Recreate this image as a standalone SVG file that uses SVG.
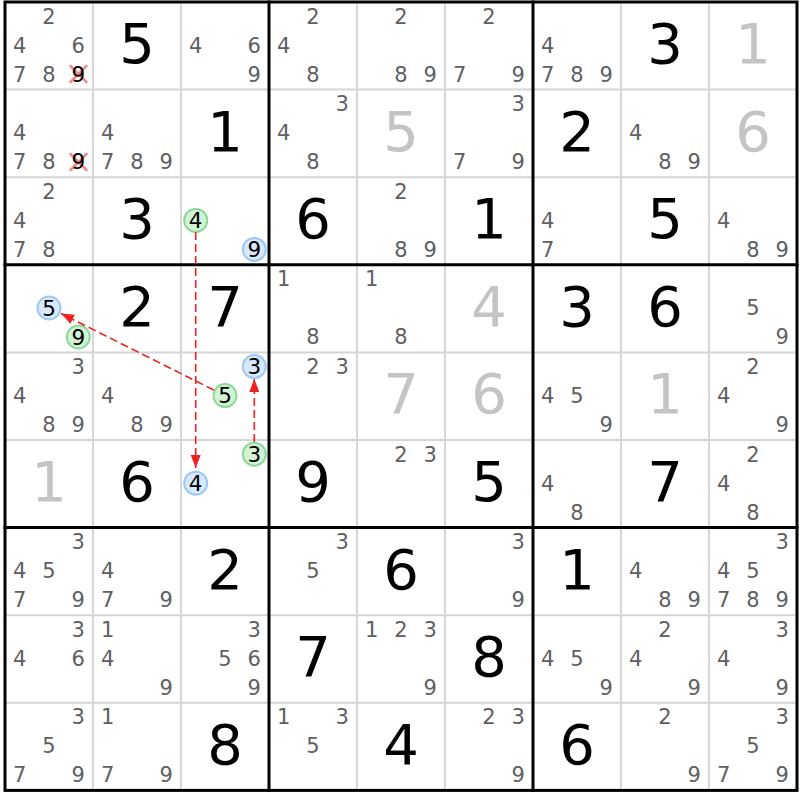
<svg xmlns="http://www.w3.org/2000/svg" width="800" height="800" viewBox="0 0 800 800">
<style>
text{font-family:"DejaVu Sans",Verdana,sans-serif;text-anchor:middle}
.c{font-size:21px;fill:#5f5f5f}
.k{font-size:21.5px;fill:#000}
.g{font-size:56px;fill:#000}
.s{font-size:56px;fill:#c4c4c4}
.thin{stroke:#d6d6d6;stroke-width:2}
.thick{stroke:#000;stroke-width:3;stroke-linecap:square}
.cg{fill:#d2f4d4;stroke:#8ed89a;stroke-width:2}
.cb{fill:#d6e9fd;stroke:#9ec8f2;stroke-width:2}
.x{stroke:#f08a8a;stroke-width:2.5;stroke-linecap:round}
.arr{stroke:#ee2222;stroke-width:1.6;stroke-dasharray:8 4;fill:none;marker-end:url(#ah)}
</style>
<defs>
<marker id="ah" markerUnits="userSpaceOnUse" markerWidth="13" markerHeight="10" refX="13" refY="5" orient="auto">
<path d="M0,0 L13,5 L0,10 z" fill="#ee2222"/>
</marker>
</defs>
<rect x="0" y="0" width="800" height="800" fill="#fff"/>
<g id="grid">
<path class="thin" d="M93,2V790.4M181,2V790.4M357,2V790.4M445,2V790.4M621,2V790.4M709,2V790.4M5,89.6H797M5,177.2H797M5,352.4H797M5,440H797M5,615.2H797M5,702.8H797"/>
<path class="thick" fill="none" d="M269,2V790.4M533,2V790.4M5,264.8H797M5,527.6H797"/>
<rect class="thick" fill="none" x="5" y="2" width="792" height="788.4"/>
</g>
<g id="r1c1"><text class="c" x="49" y="23.5">2</text><text class="c" x="19.7" y="52.5">4</text><text class="c" x="78.3" y="52.5">6</text><text class="c" x="19.7" y="81.5">7</text><text class="c" x="49" y="81.5">8</text><path class="x" d="M70.5,66L86.5,82M86.5,66L70.5,82"/><text class="k" x="78.3" y="81.5">9</text></g>
<g id="r1c2"><text class="g" x="137" y="63">5</text></g>
<g id="r1c3"><text class="c" x="195.7" y="52.5">4</text><text class="c" x="254.3" y="52.5">6</text><text class="c" x="254.3" y="81.5">9</text></g>
<g id="r1c4"><text class="c" x="313" y="23.5">2</text><text class="c" x="283.7" y="52.5">4</text><text class="c" x="313" y="81.5">8</text></g>
<g id="r1c5"><text class="c" x="401" y="23.5">2</text><text class="c" x="401" y="81.5">8</text><text class="c" x="430.3" y="81.5">9</text></g>
<g id="r1c6"><text class="c" x="489" y="23.5">2</text><text class="c" x="459.7" y="81.5">7</text><text class="c" x="518.3" y="81.5">9</text></g>
<g id="r1c7"><text class="c" x="547.7" y="52.5">4</text><text class="c" x="547.7" y="81.5">7</text><text class="c" x="577" y="81.5">8</text><text class="c" x="606.3" y="81.5">9</text></g>
<g id="r1c8"><text class="g" x="665" y="63">3</text></g>
<g id="r1c9"><text class="s" x="753" y="63">1</text></g>

<g id="r2c1"><text class="c" x="19.7" y="140.1">4</text><text class="c" x="19.7" y="169.1">7</text><text class="c" x="49" y="169.1">8</text><path class="x" d="M70.5,154L86.5,170M86.5,154L70.5,170"/><text class="k" x="78.3" y="169.1">9</text></g>
<g id="r2c2"><text class="c" x="107.7" y="140.1">4</text><text class="c" x="107.7" y="169.1">7</text><text class="c" x="137" y="169.1">8</text><text class="c" x="166.3" y="169.1">9</text></g>
<g id="r2c3"><text class="g" x="225" y="150.6">1</text></g>
<g id="r2c4"><text class="c" x="342.3" y="111.1">3</text><text class="c" x="283.7" y="140.1">4</text><text class="c" x="313" y="169.1">8</text></g>
<g id="r2c5"><text class="s" x="401" y="150.6">5</text></g>
<g id="r2c6"><text class="c" x="518.3" y="111.1">3</text><text class="c" x="459.7" y="169.1">7</text><text class="c" x="518.3" y="169.1">9</text></g>
<g id="r2c7"><text class="g" x="577" y="150.6">2</text></g>
<g id="r2c8"><text class="c" x="635.7" y="140.1">4</text><text class="c" x="665" y="169.1">8</text><text class="c" x="694.3" y="169.1">9</text></g>
<g id="r2c9"><text class="s" x="753" y="150.6">6</text></g>

<g id="r3c1"><text class="c" x="49" y="198.7">2</text><text class="c" x="19.7" y="227.7">4</text><text class="c" x="19.7" y="256.7">7</text><text class="c" x="49" y="256.7">8</text></g>
<g id="r3c2"><text class="g" x="137" y="238.2">3</text></g>
<g id="r3c3"><circle class="cg" cx="195.7" cy="220.4" r="11.5"/><text class="k" x="195.7" y="228">4</text><circle class="cb" cx="254.3" cy="249.4" r="11.5"/><text class="k" x="254.3" y="257">9</text></g>
<g id="r3c4"><text class="g" x="313" y="238.2">6</text></g>
<g id="r3c5"><text class="c" x="401" y="198.7">2</text><text class="c" x="401" y="256.7">8</text><text class="c" x="430.3" y="256.7">9</text></g>
<g id="r3c6"><text class="g" x="489" y="238.2">1</text></g>
<g id="r3c7"><text class="c" x="547.7" y="227.7">4</text><text class="c" x="547.7" y="256.7">7</text></g>
<g id="r3c8"><text class="g" x="665" y="238.2">5</text></g>
<g id="r3c9"><text class="c" x="723.7" y="227.7">4</text><text class="c" x="753" y="256.7">8</text><text class="c" x="782.3" y="256.7">9</text></g>

<g id="r4c1"><circle class="cb" cx="49" cy="308" r="11.5"/><text class="k" x="49" y="315.6">5</text><circle class="cg" cx="78.3" cy="337" r="11.5"/><text class="k" x="78.3" y="344.6">9</text></g>
<g id="r4c2"><text class="g" x="137" y="325.8">2</text></g>
<g id="r4c3"><text class="g" x="225" y="325.8">7</text></g>
<g id="r4c4"><text class="c" x="283.7" y="286.3">1</text><text class="c" x="313" y="344.3">8</text></g>
<g id="r4c5"><text class="c" x="371.7" y="286.3">1</text><text class="c" x="401" y="344.3">8</text></g>
<g id="r4c6"><text class="s" x="489" y="325.8">4</text></g>
<g id="r4c7"><text class="g" x="577" y="325.8">3</text></g>
<g id="r4c8"><text class="g" x="665" y="325.8">6</text></g>
<g id="r4c9"><text class="c" x="753" y="315.3">5</text><text class="c" x="782.3" y="344.3">9</text></g>

<g id="r5c1"><text class="c" x="78.3" y="373.9">3</text><text class="c" x="19.7" y="402.9">4</text><text class="c" x="49" y="431.9">8</text><text class="c" x="78.3" y="431.9">9</text></g>
<g id="r5c2"><text class="c" x="107.7" y="402.9">4</text><text class="c" x="137" y="431.9">8</text><text class="c" x="166.3" y="431.9">9</text></g>
<g id="r5c3"><circle class="cb" cx="254.3" cy="366.6" r="11.5"/><text class="k" x="254.3" y="374.2">3</text><circle class="cg" cx="225" cy="395.6" r="11.5"/><text class="k" x="225" y="403.2">5</text></g>
<g id="r5c4"><text class="c" x="313" y="373.9">2</text><text class="c" x="342.3" y="373.9">3</text></g>
<g id="r5c5"><text class="s" x="401" y="413.4">7</text></g>
<g id="r5c6"><text class="s" x="489" y="413.4">6</text></g>
<g id="r5c7"><text class="c" x="547.7" y="402.9">4</text><text class="c" x="577" y="402.9">5</text><text class="c" x="606.3" y="431.9">9</text></g>
<g id="r5c8"><text class="s" x="665" y="413.4">1</text></g>
<g id="r5c9"><text class="c" x="753" y="373.9">2</text><text class="c" x="723.7" y="402.9">4</text><text class="c" x="782.3" y="431.9">9</text></g>

<g id="r6c1"><text class="s" x="49" y="501">1</text></g>
<g id="r6c2"><text class="g" x="137" y="501">6</text></g>
<g id="r6c3"><circle class="cg" cx="254.3" cy="454.2" r="11.5"/><text class="k" x="254.3" y="461.8">3</text><circle class="cb" cx="195.7" cy="483.2" r="11.5"/><text class="k" x="195.7" y="490.8">4</text></g>
<g id="r6c4"><text class="g" x="313" y="501">9</text></g>
<g id="r6c5"><text class="c" x="401" y="461.5">2</text><text class="c" x="430.3" y="461.5">3</text></g>
<g id="r6c6"><text class="g" x="489" y="501">5</text></g>
<g id="r6c7"><text class="c" x="547.7" y="490.5">4</text><text class="c" x="577" y="519.5">8</text></g>
<g id="r6c8"><text class="g" x="665" y="501">7</text></g>
<g id="r6c9"><text class="c" x="753" y="461.5">2</text><text class="c" x="723.7" y="490.5">4</text><text class="c" x="753" y="519.5">8</text></g>

<g id="r7c1"><text class="c" x="78.3" y="549.1">3</text><text class="c" x="19.7" y="578.1">4</text><text class="c" x="49" y="578.1">5</text><text class="c" x="19.7" y="607.1">7</text><text class="c" x="78.3" y="607.1">9</text></g>
<g id="r7c2"><text class="c" x="107.7" y="578.1">4</text><text class="c" x="107.7" y="607.1">7</text><text class="c" x="166.3" y="607.1">9</text></g>
<g id="r7c3"><text class="g" x="225" y="588.6">2</text></g>
<g id="r7c4"><text class="c" x="342.3" y="549.1">3</text><text class="c" x="313" y="578.1">5</text></g>
<g id="r7c5"><text class="g" x="401" y="588.6">6</text></g>
<g id="r7c6"><text class="c" x="518.3" y="549.1">3</text><text class="c" x="518.3" y="607.1">9</text></g>
<g id="r7c7"><text class="g" x="577" y="588.6">1</text></g>
<g id="r7c8"><text class="c" x="635.7" y="578.1">4</text><text class="c" x="665" y="607.1">8</text><text class="c" x="694.3" y="607.1">9</text></g>
<g id="r7c9"><text class="c" x="782.3" y="549.1">3</text><text class="c" x="723.7" y="578.1">4</text><text class="c" x="753" y="578.1">5</text><text class="c" x="723.7" y="607.1">7</text><text class="c" x="753" y="607.1">8</text><text class="c" x="782.3" y="607.1">9</text></g>

<g id="r8c1"><text class="c" x="78.3" y="636.7">3</text><text class="c" x="19.7" y="665.7">4</text><text class="c" x="78.3" y="665.7">6</text></g>
<g id="r8c2"><text class="c" x="107.7" y="636.7">1</text><text class="c" x="107.7" y="665.7">4</text><text class="c" x="166.3" y="694.7">9</text></g>
<g id="r8c3"><text class="c" x="254.3" y="636.7">3</text><text class="c" x="225" y="665.7">5</text><text class="c" x="254.3" y="665.7">6</text><text class="c" x="254.3" y="694.7">9</text></g>
<g id="r8c4"><text class="g" x="313" y="676.2">7</text></g>
<g id="r8c5"><text class="c" x="371.7" y="636.7">1</text><text class="c" x="401" y="636.7">2</text><text class="c" x="430.3" y="636.7">3</text><text class="c" x="430.3" y="694.7">9</text></g>
<g id="r8c6"><text class="g" x="489" y="676.2">8</text></g>
<g id="r8c7"><text class="c" x="547.7" y="665.7">4</text><text class="c" x="577" y="665.7">5</text><text class="c" x="606.3" y="694.7">9</text></g>
<g id="r8c8"><text class="c" x="665" y="636.7">2</text><text class="c" x="635.7" y="665.7">4</text><text class="c" x="694.3" y="694.7">9</text></g>
<g id="r8c9"><text class="c" x="782.3" y="636.7">3</text><text class="c" x="723.7" y="665.7">4</text><text class="c" x="782.3" y="694.7">9</text></g>

<g id="r9c1"><text class="c" x="78.3" y="724.3">3</text><text class="c" x="49" y="753.3">5</text><text class="c" x="19.7" y="782.3">7</text><text class="c" x="78.3" y="782.3">9</text></g>
<g id="r9c2"><text class="c" x="107.7" y="724.3">1</text><text class="c" x="107.7" y="782.3">7</text><text class="c" x="166.3" y="782.3">9</text></g>
<g id="r9c3"><text class="g" x="225" y="763.8">8</text></g>
<g id="r9c4"><text class="c" x="283.7" y="724.3">1</text><text class="c" x="342.3" y="724.3">3</text><text class="c" x="313" y="753.3">5</text></g>
<g id="r9c5"><text class="g" x="401" y="763.8">4</text></g>
<g id="r9c6"><text class="c" x="489" y="724.3">2</text><text class="c" x="518.3" y="724.3">3</text><text class="c" x="518.3" y="782.3">9</text></g>
<g id="r9c7"><text class="g" x="577" y="763.8">6</text></g>
<g id="r9c8"><text class="c" x="665" y="724.3">2</text><text class="c" x="694.3" y="782.3">9</text></g>
<g id="r9c9"><text class="c" x="782.3" y="724.3">3</text><text class="c" x="753" y="753.3">5</text><text class="c" x="723.7" y="782.3">7</text><text class="c" x="782.3" y="782.3">9</text></g>

<g id="connectors">
<line class="arr" x1="195.7" y1="232" x2="195.7" y2="468"/>
<line class="arr" x1="254.3" y1="442" x2="254.3" y2="379"/>
<line class="arr" x1="213.8" y1="390" x2="61" y2="313.5"/>
</g>
</svg>
